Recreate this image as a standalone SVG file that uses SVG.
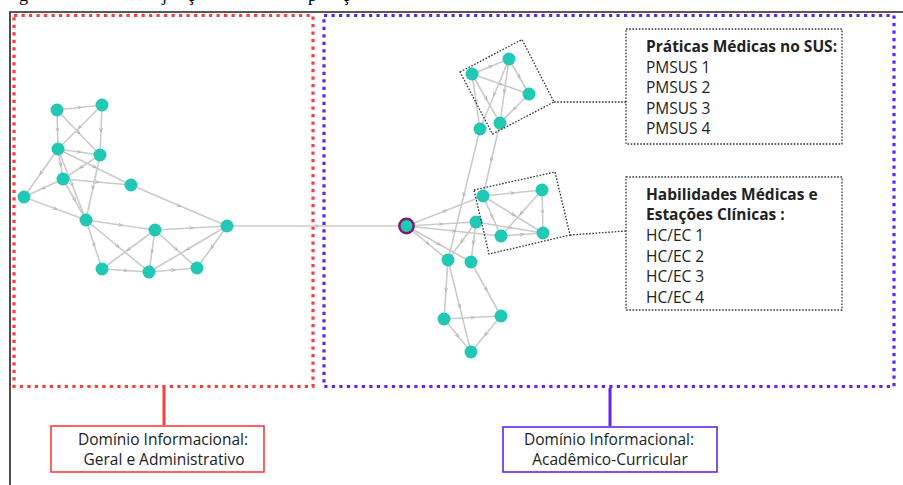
<svg xmlns="http://www.w3.org/2000/svg" width="903" height="485" viewBox="0 0 903 485">
<defs>
<marker id="a" viewBox="0 0 6 6" refX="3" refY="3" markerWidth="4" markerHeight="4" orient="auto" markerUnits="userSpaceOnUse">
<path d="M0,0.5 L6,3 L0,5.5" fill="none" stroke="#a8a8a8" stroke-width="1"/>
</marker>
<style>
.e{fill:none;stroke:#cbcbcb;stroke-width:1.6;marker-mid:url(#a)}
.n{fill:#21c8b4}
.t{font-family:"Open Sans","Noto Sans","DejaVu Sans",sans-serif;font-size:15.5px;fill:#222}
.b{font-weight:bold}
.cap{font-family:"Liberation Serif","Times New Roman",serif;font-size:18px;fill:#000}
.lg{fill:none;stroke:#333;stroke-width:1.3;stroke-dasharray:1.6 1.6}
</style>
</defs>
<rect width="903" height="485" fill="#fff"/>
<g id="caption-fragment">
<text class="cap" x="19" y="1">g</text>
<text class="cap" x="162" y="1">j</text>
<text class="cap" x="187" y="1">ç</text>
<text class="cap" x="308" y="1">p</text>
<text class="cap" x="342" y="1">ç</text>
</g>
<path d="M10,485 V12 H903" fill="none" stroke="#222" stroke-width="1.6"/>
<g id="domain-general">
<rect x="14" y="15.5" width="299" height="371" fill="none" stroke="#ff3b3b" stroke-width="3.2" stroke-dasharray="3.2 4.3"/>
</g>
<g id="domain-academic">
<rect x="324" y="15.5" width="570" height="371" fill="none" stroke="#6424f0" stroke-width="3.2" stroke-dasharray="3.2 4.3"/>
</g>
<g id="connectors">
<path class="e" d="M57,110 L79.5,107.5 L102,105"/>
<path class="e" d="M57,110 L57.5,129.5 L58,149"/>
<path class="e" d="M57,110 L78.5,132.5 L100,155"/>
<path class="e" d="M102,105 L80,127 L58,149"/>
<path class="e" d="M102,105 L101,130 L100,155"/>
<path class="e" d="M58,149 L79,152 L100,155"/>
<path class="e" d="M58,149 L60.5,164 L63,179"/>
<path class="e" d="M58,149 L41,173 L24,197"/>
<path class="e" d="M58,149 L94.5,167 L131,185"/>
<path class="e" d="M58,149 L72,184.5 L86,220"/>
<path class="e" d="M100,155 L81.5,167 L63,179"/>
<path class="e" d="M100,155 L93,187.5 L86,220"/>
<path class="e" d="M63,179 L97,182 L131,185"/>
<path class="e" d="M63,179 L43.5,188 L24,197"/>
<path class="e" d="M63,179 L74.5,199.5 L86,220"/>
<path class="e" d="M24,197 L55,208.5 L86,220"/>
<path class="e" d="M131,185 L179,205.5 L227,226"/>
<path class="e" d="M86,220 L120.5,225 L155,230"/>
<path class="e" d="M86,220 L117.5,246 L149,272"/>
<path class="e" d="M86,220 L94,244.5 L102,269"/>
<path class="e" d="M155,230 L191,228 L227,226"/>
<path class="e" d="M155,230 L128.5,249.5 L102,269"/>
<path class="e" d="M155,230 L152,251 L149,272"/>
<path class="e" d="M155,230 L176,249 L197,268"/>
<path class="e" d="M227,226 L188,249 L149,272"/>
<path class="e" d="M227,226 L212,247 L197,268"/>
<path class="e" d="M102,269 L125.5,270.5 L149,272"/>
<path class="e" d="M149,272 L173,270 L197,268"/>
<path class="e" d="M227,226 L316.75,226 L406.5,226"/>
<path class="e" d="M472,74 L490.5,66.5 L509,59"/>
<path class="e" d="M472,74 L500.5,84 L529,94"/>
<path class="e" d="M472,74 L476,101.5 L480,129"/>
<path class="e" d="M472,74 L486,98.5 L500,123"/>
<path class="e" d="M509,59 L519,76.5 L529,94"/>
<path class="e" d="M509,59 L494.5,94 L480,129"/>
<path class="e" d="M509,59 L504.5,91 L500,123"/>
<path class="e" d="M529,94 L514.5,108.5 L500,123"/>
<path class="e" d="M480,129 L464,194.5 L448,260"/>
<path class="e" d="M500,123 L491.5,159.5 L483,196"/>
<path class="e" d="M406.5,226 L444.75,211 L483,196"/>
<path class="e" d="M406.5,226 L441.25,224 L476,222"/>
<path class="e" d="M406.5,226 L453.75,231 L501,236"/>
<path class="e" d="M406.5,226 L427.25,243 L448,260"/>
<path class="e" d="M406.5,226 L438.75,244 L471,262"/>
<path class="e" d="M476,222 L509.5,227.5 L543,233"/>
<path class="e" d="M476,222 L462,241 L448,260"/>
<path class="e" d="M476,222 L473.5,242 L471,262"/>
<path class="e" d="M483,196 L512.5,193 L542,190"/>
<path class="e" d="M483,196 L492,216 L501,236"/>
<path class="e" d="M483,196 L513,214.5 L543,233"/>
<path class="e" d="M542,190 L521.5,213 L501,236"/>
<path class="e" d="M542,190 L542.5,211.5 L543,233"/>
<path class="e" d="M501,236 L522,234.5 L543,233"/>
<path class="e" d="M448,260 L446,289.5 L444,319"/>
<path class="e" d="M448,260 L459.5,306 L471,352"/>
<path class="e" d="M471,262 L486,289 L501,316"/>
<path class="e" d="M444,319 L472.5,317.5 L501,316"/>
<path class="e" d="M444,319 L457.5,335.5 L471,352"/>
<path class="e" d="M501,316 L486,334 L471,352"/>
<path d="M164,388 V425" stroke="#ff3b3b" stroke-width="3"/>
<path d="M610,388 V426" stroke="#6424f0" stroke-width="3"/>
<path class="lg" d="M554,102 H626"/>
<path class="lg" d="M570,235 L626,231"/>
</g>
<g id="nodes-general">
<circle class="n" cx="57" cy="110" r="6.5"/>
<circle class="n" cx="102" cy="105" r="6.5"/>
<circle class="n" cx="58" cy="149" r="6.5"/>
<circle class="n" cx="100" cy="155" r="6.5"/>
<circle class="n" cx="63" cy="179" r="6.5"/>
<circle class="n" cx="131" cy="185" r="6.5"/>
<circle class="n" cx="24" cy="197" r="6.5"/>
<circle class="n" cx="86" cy="220" r="6.5"/>
<circle class="n" cx="155" cy="230" r="6.5"/>
<circle class="n" cx="227" cy="226" r="6.5"/>
<circle class="n" cx="102" cy="269" r="6.5"/>
<circle class="n" cx="149" cy="272" r="6.5"/>
<circle class="n" cx="197" cy="268" r="6.5"/>
</g>
<g id="hub">
<circle cx="406.5" cy="226" r="7.2" fill="#21c8b4" stroke="#7d1a78" stroke-width="2.4"/>
</g>
<g id="nodes-academic">
<circle class="n" cx="483" cy="196" r="6.5"/>
<circle class="n" cx="542" cy="190" r="6.5"/>
<circle class="n" cx="501" cy="236" r="6.5"/>
<circle class="n" cx="543" cy="233" r="6.5"/>
<circle class="n" cx="476" cy="222" r="6.5"/>
<circle class="n" cx="448" cy="260" r="6.5"/>
<circle class="n" cx="471" cy="262" r="6.5"/>
<circle class="n" cx="444" cy="319" r="6.5"/>
<circle class="n" cx="501" cy="316" r="6.5"/>
<circle class="n" cx="471" cy="352" r="6.5"/>
<circle class="n" cx="472" cy="74" r="6.5"/>
<circle class="n" cx="509" cy="59" r="6.5"/>
<circle class="n" cx="529" cy="94" r="6.5"/>
<circle class="n" cx="480" cy="129" r="6.5"/>
<circle class="n" cx="500" cy="123" r="6.5"/>
</g>
<g id="group-pmsus">
<path class="lg" d="M460,72 L522,39.5 L554,102 L492.5,134 Z"/>
</g>
<g id="group-hcec">
<path class="lg" d="M474,190 L555,172 L570,235 L489,254 Z"/>
</g>
<g id="legend-pmsus">
<rect class="lg" x="626" y="29" width="216" height="115"/>
<text class="t b" x="646" y="52">Práticas Médicas no SUS:</text>
<text class="t" x="646" y="72.5">PMSUS 1</text>
<text class="t" x="646" y="93">PMSUS 2</text>
<text class="t" x="646" y="113.5">PMSUS 3</text>
<text class="t" x="646" y="134">PMSUS 4</text>
</g>
<g id="legend-hcec">
<rect class="lg" x="626" y="177" width="216" height="133"/>
<text class="t b" x="646" y="199.5">Habilidades Médicas e</text>
<text class="t b" x="646" y="220">Estações Clínicas :</text>
<text class="t" x="646" y="241">HC/EC 1</text>
<text class="t" x="646" y="261.5">HC/EC 2</text>
<text class="t" x="646" y="282">HC/EC 3</text>
<text class="t" x="646" y="302.5">HC/EC 4</text>
</g>
<g id="label-general">
<rect x="51" y="426" width="213" height="46" fill="#fff" stroke="#ff3b3b" stroke-width="1.6"/>
<text class="t" x="163" y="444.5" text-anchor="middle">Domínio Informacional:</text>
<text class="t" x="164" y="465" text-anchor="middle">Geral e Administrativo</text>
</g>
<g id="label-academic">
<rect x="503" y="427" width="214" height="45" fill="#fff" stroke="#6424f0" stroke-width="1.6"/>
<text class="t" x="609" y="444.5" text-anchor="middle">Domínio Informacional:</text>
<text class="t" x="610" y="465" text-anchor="middle">Acadêmico-Curricular</text>
</g>
</svg>
